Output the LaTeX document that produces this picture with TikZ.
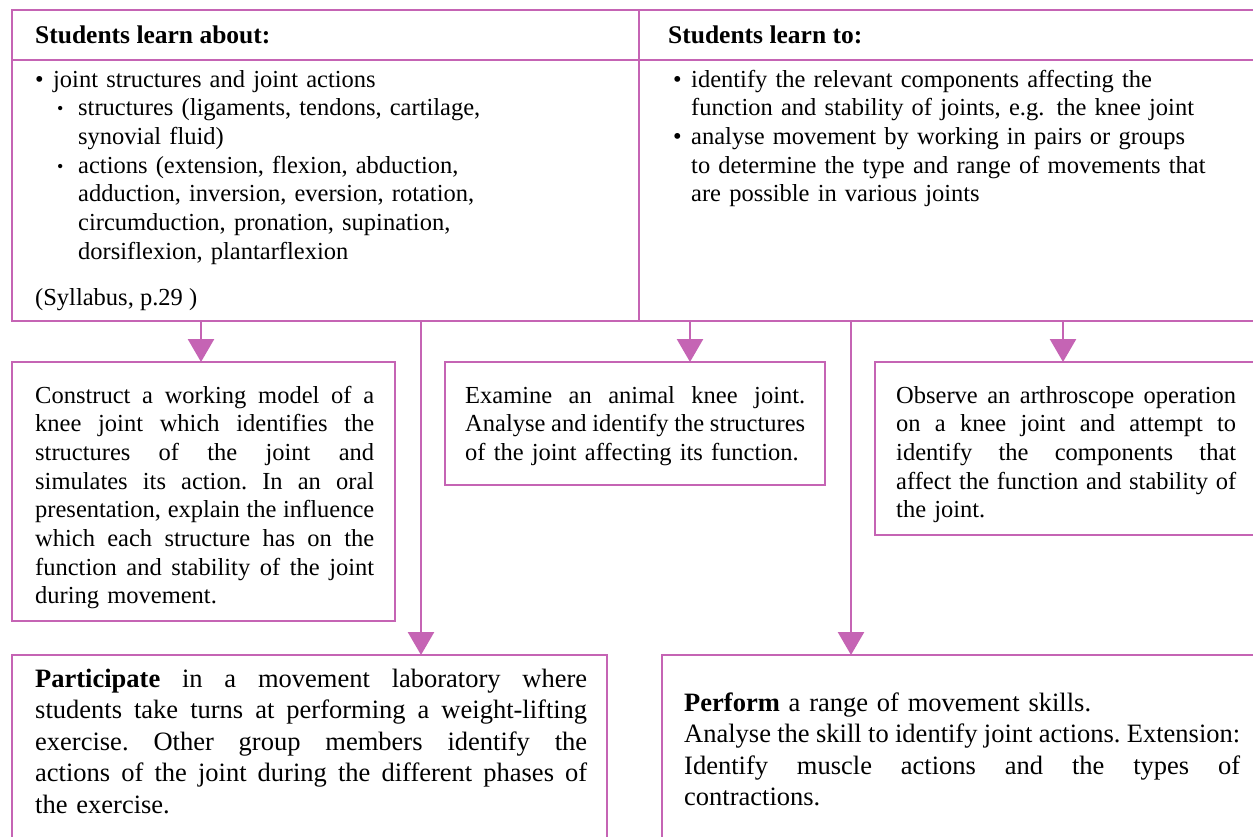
\documentclass[tikz,border=0pt]{standalone}
\usepackage{fontspec}
\setmainfont{Liberation Serif}
\usetikzlibrary{arrows.meta}
\definecolor{lilac}{HTML}{C564B4}
\newcommand{\bul}{\makebox[18pt][l]{\textbullet}}
\newcommand{\subbul}{\hspace*{22pt}\makebox[21pt][l]{\raisebox{1pt}{\fontsize{18}{18}\selectfont\textbullet}}}
\newcommand{\jl}[2][340pt]{\leavevmode\hbox to #1{\spaceskip=.25em plus .8em minus .13em\xspaceskip=\spaceskip #2}\\}

\begin{document}
\begin{tikzpicture}[x=1pt,y=-1pt]
\tikzstyle{cell}=[draw=lilac, line width=2.6pt, inner sep=0pt, outer sep=0pt, anchor=north west]
\tikzstyle{txt}=[inner sep=0pt, anchor=base west, align=left, font=\fontsize{24.5}{28.7}\selectfont]
\tikzstyle{big}=[inner sep=0pt, anchor=base west, align=left, font=\fontsize{26.5}{31.5}\selectfont]
\tikzstyle{flow}=[draw=lilac, line width=2.6pt, -{Triangle[width=26pt,length=23pt]}]
\useasboundingbox (0,0) rectangle (1253,836);

\node[cell, minimum width=627pt, minimum height=50pt] (headL) at (12,10) {};
\node[cell, minimum width=625pt, minimum height=50pt] (headR) at (639,10) {};
\node[cell, minimum width=627pt, minimum height=261pt] (bodyL) at (12,60) {};
\node[cell, minimum width=625pt, minimum height=261pt] (bodyR) at (639,60) {};

\node[txt, font=\fontsize{25.5}{28.7}\selectfont\bfseries] (aboutT) at (35,43) {Students learn about:};
\node[txt, font=\fontsize{25.5}{28.7}\selectfont\bfseries] (toT) at (668,43) {Students learn to:};

\node[txt, text width=590pt] (aboutL) at (35,87) {%
\bul joint structures and joint actions\\
\subbul structures (ligaments, tendons, cartilage,\\
\hspace*{43pt}synovial fluid)\\
\subbul actions (extension, flexion, abduction,\\
\hspace*{43pt}adduction, inversion, eversion, rotation,\\
\hspace*{43pt}circumduction, pronation, supination,\\
\hspace*{43pt}dorsiflexion, plantarflexion};
\node[txt] (syll) at (35,305) {(Syllabus, p.29 )};

\node[txt, text width=570pt] (toL) at (673,87) {%
\bul identify the relevant components affecting the\\
\hspace*{18pt}function and stability of joints, e.g. the knee joint\\
\bul analyse movement by working in pairs or groups\\
\hspace*{18pt}to determine the type and range of movements that\\
\hspace*{18pt}are possible in various joints};

\node[cell, minimum width=383pt, minimum height=259pt] (boxA) at (12,362) {};
\node[cell, minimum width=380pt, minimum height=123pt] (boxB) at (445,362) {};
\node[cell, minimum width=389pt, minimum height=173pt] (boxC) at (875,362) {};
\node[cell, minimum width=595pt, minimum height=200pt] (boxD) at (12,655) {};
\node[cell, minimum width=602pt, minimum height=200pt] (boxE) at (662,655) {};

\node[txt, text width=339pt] (modelT) at (35,403) {%
\jl[339pt]{Construct a working model of a}
\jl[339pt]{knee joint which identifies the}
\jl[339pt]{structures of the joint and}
\jl[339pt]{simulates its action. In an oral}
\jl[339pt]{presentation, explain the influence}
\jl[339pt]{which each structure has on the}
\jl[339pt]{function and stability of the joint}
during  movement.};

\node[txt, text width=340pt] (kneeT) at (465,403) {%
\jl{Examine an animal knee joint.}
\jl{Analyse and identify the structures}
of the joint affecting its function.};

\node[txt, text width=341pt] (scopeT) at (896,403) {%
\jl{Observe an arthroscope operation}
\jl{on a knee joint and attempt to}
\jl{identify the components that}
\jl{affect the function and stability of}
the joint.};

\node[big, text width=552pt] (labT) at (35,687) {%
\jl[552pt]{\textbf{Participate} in a movement laboratory where}
\jl[552pt]{students take turns at performing a weight-lifting}
\jl[552pt]{exercise. Other group members identify the}
\jl[552pt]{actions of the joint during the different phases of}
the exercise.};

\node[big, text width=556pt] (skillT) at (684,711) {%
\textbf{Perform} a range of movement skills.\\
\jl[556pt]{Analyse the skill to identify joint actions. Extension:}
\jl[556pt]{Identify muscle actions and the types of}
contractions.};

\coordinate (outA) at (201,321);
\coordinate (outD) at (421,321);
\coordinate (outB) at (690,321);
\coordinate (outE) at (851,321);
\coordinate (outC) at (1063,321);
\draw[flow] (outA) -- (outA |- boxA.north);
\draw[flow] (outD) -- (outD |- boxD.north);
\draw[flow] (outB) -- (outB |- boxB.north);
\draw[flow] (outE) -- (outE |- boxE.north);
\draw[flow] (outC) -- (outC |- boxC.north);
\end{tikzpicture}
\end{document}
